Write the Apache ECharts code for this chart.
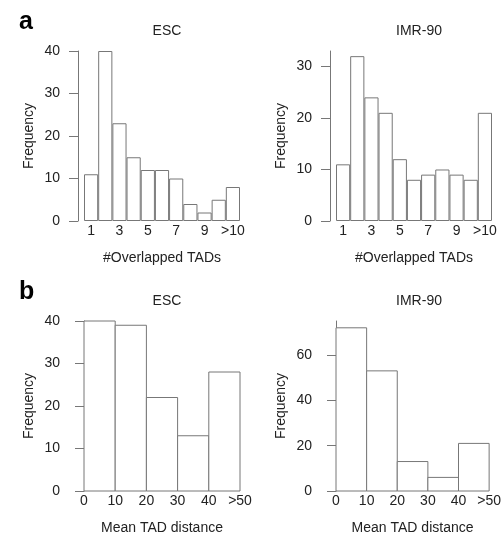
<!DOCTYPE html>
<html>
<head>
<meta charset="utf-8">
<script src="https://cdn.jsdelivr.net/npm/echarts@6/dist/echarts.min.js"></script>
<style>
    html, body { margin: 0; padding: 0; background: #fff; }
    #chart { width: 504px; height: 536px; }
</style>
</head>
<body>
<div id="chart"></div>
<script>
    // data
    const overlapCats = ['1', '2', '3', '4', '5', '6', '7', '8', '9', '10', '>10'];
    const escOverlap = [11, 40, 23, 15, 12, 12, 10, 4, 2, 5, 8];
    const imrOverlap = [11, 32, 24, 21, 12, 8, 9, 10, 9, 8, 21];
    const distStarts = [0, 10, 20, 30, 40];
    const distEnds = [10, 20, 30, 40, 50];
    const escDist = [40, 39, 22, 13, 28];
    const imrDist = [72, 53, 13, 6, 21];

    const lineColor = '#777';
    const textColor = '#222';
    const font = 'Liberation Sans, Arial, sans-serif';

    // grid boxes: [left, top]
    const boxes = [[84, 51], [336, 51], [84, 321], [336, 321]];
    const boxW = 156, boxH = 170;

    function yAxis(idx, max, ticks) {
        return {
            type: 'value', gridIndex: idx, min: 0, max: max,
            offset: 6,
            name: 'Frequency', nameLocation: 'middle', nameGap: 42,
            nameTextStyle: { fontSize: 14, color: textColor, fontFamily: font },
            axisLine: { show: true, lineStyle: { color: lineColor } },
            axisTick: { show: true, length: 9, customValues: ticks, lineStyle: { color: lineColor } },
            axisLabel: { customValues: ticks, fontSize: 14, color: textColor, fontFamily: font, margin: 18 },
            splitLine: { show: false }
        };
    }

    function overlapX(idx) {
        return {
            type: 'category', gridIndex: idx, data: overlapCats,
            name: '#Overlapped TADs', nameLocation: 'middle', nameGap: 30,
            nameTextStyle: { fontSize: 14, color: textColor, fontFamily: font },
            axisLine: { show: false }, axisTick: { show: false },
            axisLabel: { interval: 1, fontSize: 14, color: textColor, fontFamily: font, margin: 3 }
        };
    }

    function distX(idx) {
        return {
            type: 'value', gridIndex: idx, min: 0, max: 50, interval: 10,
            name: 'Mean TAD distance', nameLocation: 'middle', nameGap: 30,
            nameTextStyle: { fontSize: 14, color: textColor, fontFamily: font },
            axisLine: { show: false }, axisTick: { show: false }, splitLine: { show: false },
            axisLabel: {
                fontSize: 14, color: textColor, fontFamily: font, margin: 3,
                formatter: v => v === 50 ? '>50' : String(v)
            }
        };
    }

    function overlapSeries(idx, values) {
        return {
            type: 'bar', xAxisIndex: idx, yAxisIndex: idx, data: values,
            barCategoryGap: '0%', silent: true,
            itemStyle: { color: '#fff', borderColor: lineColor, borderWidth: 1 }
        };
    }

    function distSeries(idx, values) {
        return {
            type: 'custom', xAxisIndex: idx, yAxisIndex: idx, silent: true,
            data: values.map((v, i) => [distStarts[i], distEnds[i], v]),
            renderItem: function (params, api) {
                const p0 = api.coord([api.value(0), api.value(2)]);
                const p1 = api.coord([api.value(1), 0]);
                return {
                    type: 'rect',
                    shape: { x: p0[0], y: p0[1], width: p1[0] - p0[0], height: p1[1] - p0[1] },
                    style: { fill: '#fff', stroke: lineColor, lineWidth: 1 }
                };
            }
        };
    }

    const titles = ['ESC', 'IMR-90', 'ESC', 'IMR-90'].map((t, i) => ({
        text: t, left: boxes[i][0] + boxW / 2, top: boxes[i][1] - 32,
        textAlign: 'center',
        textStyle: { fontSize: 14, fontWeight: 'normal', color: textColor, fontFamily: font }
    }));
    titles.push({ text: 'a', left: 14, top: 5, textStyle: { fontSize: 25, fontWeight: 'bold', color: '#000', fontFamily: font } });
    titles.push({ text: 'b', left: 14, top: 275, textStyle: { fontSize: 25, fontWeight: 'bold', color: '#000', fontFamily: font } });

    const chart = echarts.init(document.getElementById('chart'));
    chart.setOption({
        animation: false,
        backgroundColor: '#fff',
        title: titles,
        grid: boxes.map(b => ({ left: b[0], top: b[1], width: boxW, height: boxH })),
        xAxis: [overlapX(0), overlapX(1), distX(2), distX(3)],
        yAxis: [
            yAxis(0, 40, [0, 10, 20, 30, 40]),
            yAxis(1, 33, [0, 10, 20, 30]),
            yAxis(2, 40, [0, 10, 20, 30, 40]),
            yAxis(3, 75, [0, 20, 40, 60])
        ],
        series: [
            overlapSeries(0, escOverlap),
            overlapSeries(1, imrOverlap),
            distSeries(2, escDist),
            distSeries(3, imrDist)
        ]
    });
</script>
</body>
</html>
